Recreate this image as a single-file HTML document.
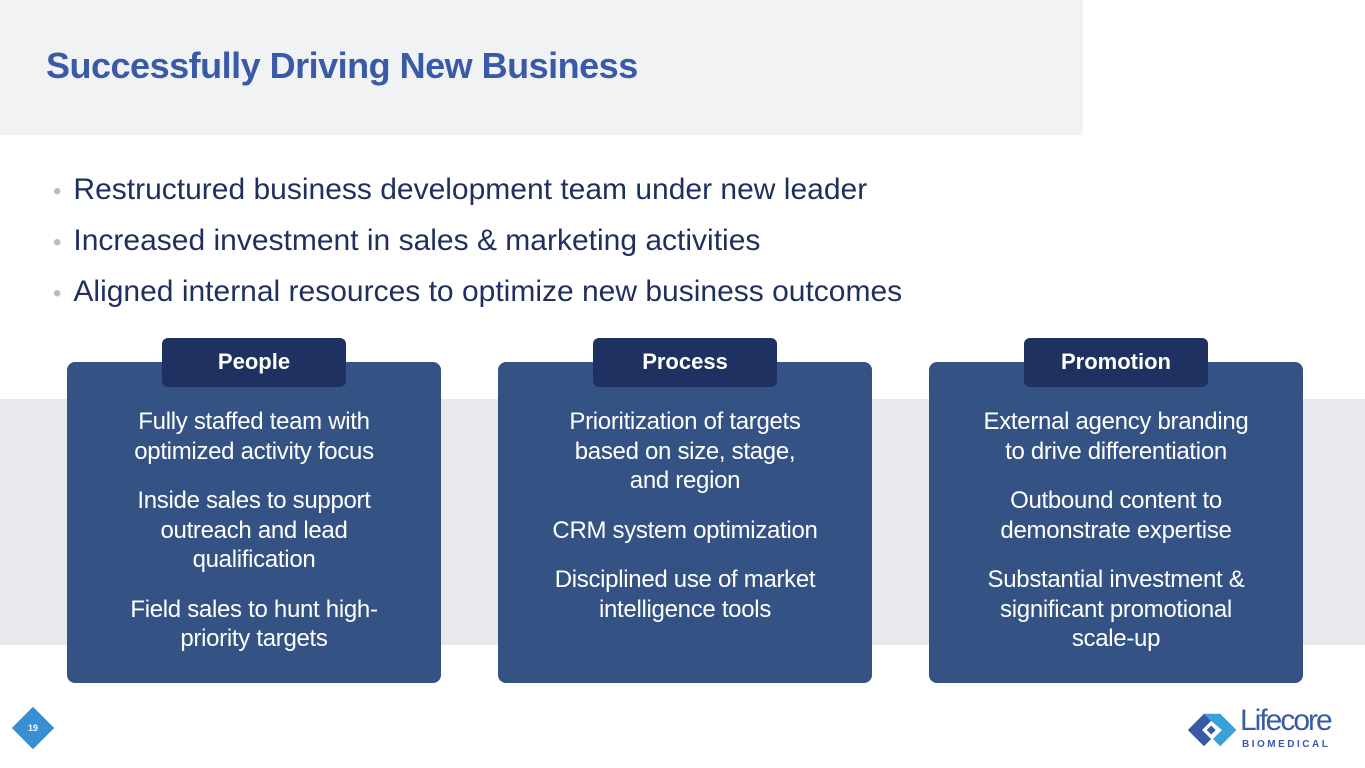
<!DOCTYPE html>
<html><head><meta charset="utf-8"><style>
body{margin:0;width:1365px;height:768px;position:relative;overflow:hidden;background:#fff;font-family:"Liberation Sans",sans-serif}
.hdr{position:absolute;left:0;top:0;width:1083px;height:135px;background:#f1f2f4}
.title{position:absolute;left:46px;top:45px;font-size:36px;font-weight:bold;color:#3a5aa8;letter-spacing:-0.5px}
.band{position:absolute;left:0;top:399px;width:1365px;height:246px;background:#e8e9ec}
.bul{position:absolute;left:53px;font-size:30px;color:#1f2f5e;letter-spacing:0px;white-space:nowrap}
.bul span{color:#b8bcc6;margin-right:12px;font-size:24px}
.card{position:absolute;top:362px;width:374px;height:321px;background:#345384;border-radius:8px;color:#fff;text-align:center;font-size:24px;line-height:29.5px;letter-spacing:-0.3px}
.card p{margin:0 0 20px 0}
.inner{padding-top:45px}
.tab{position:absolute;top:338px;width:184px;height:49px;background:#1f3160;border-radius:6px;color:#fff;font-weight:bold;font-size:22px;text-align:center;line-height:48px}
.pn{position:absolute;left:18px;top:713px;width:30px;height:30px;background:#3a8fd4;transform:rotate(45deg)}
.pnt{position:absolute;left:18px;top:713px;width:30px;height:30px;line-height:30px;text-align:center;color:#fff;font-size:9px;font-weight:bold}
</style></head><body>
<div class="hdr"></div>
<div class="title">Successfully Driving New Business</div>
<div class="band"></div>
<div class="bul" style="top:173px"><span>•</span>Restructured business development team under new leader</div>
<div class="bul" style="top:224px"><span>•</span>Increased investment in sales &amp; marketing activities</div>
<div class="bul" style="top:275px"><span>•</span>Aligned internal resources to optimize new business outcomes</div>

<div class="card" style="left:67px"><div class="inner"><p>Fully staffed team with<br>optimized activity focus</p><p>Inside sales to support<br>outreach and lead<br>qualification</p><p>Field sales to hunt high-<br>priority targets</p></div></div>
<div class="card" style="left:498px"><div class="inner"><p>Prioritization of targets<br>based on size, stage,<br>and region</p><p>CRM system optimization</p><p>Disciplined use of market<br>intelligence tools</p></div></div>
<div class="card" style="left:929px"><div class="inner"><p>External agency branding<br>to drive differentiation</p><p>Outbound content to<br>demonstrate expertise</p><p>Substantial investment &amp;<br>significant promotional<br>scale-up</p></div></div>
<div class="tab" style="left:162px">People</div>
<div class="tab" style="left:593px">Process</div>
<div class="tab" style="left:1024px">Promotion</div>

<div class="pn"></div><div class="pnt">19</div>

<svg style="position:absolute;left:1186px;top:708px" width="54" height="44" viewBox="0 0 60 44">
<polygon points="2,22 20,4 28,12 18,22 28,32 20,40" fill="#3a5aa8"/>
<polygon points="20,4 38,4 56,22 38,40 30,32 40,22 28,12" fill="#3aa0d8"/>
<polygon points="18,22 28,12 38,22 28,32" fill="#fff"/>
<polygon points="23,22 28,17 33,22 28,27" fill="#3a5aa8"/>
</svg>
<div style="position:absolute;left:1240px;top:704px;font-size:30px;color:#3a5aa8;letter-spacing:-2px">Lifecore</div>
<div style="position:absolute;left:1242px;top:739px;font-size:10px;color:#3a5aa8;letter-spacing:2.5px;font-weight:bold">BIOMEDICAL</div>
</body></html>
